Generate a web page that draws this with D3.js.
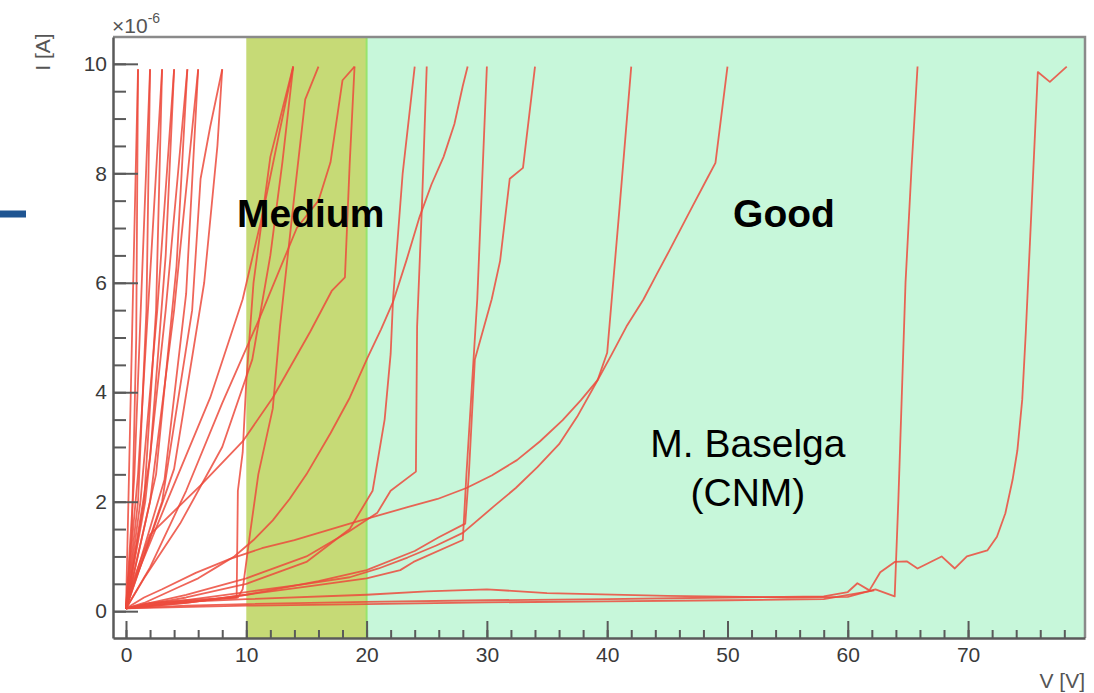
<!DOCTYPE html>
<html>
<head>
<meta charset="utf-8">
<script src="https://cdn.jsdelivr.net/npm/d3@7"></script>
<style>
  body { margin: 0; background: #fff; }
  svg { display: block; font-family: "Liberation Sans", Arial, Helvetica, sans-serif; }
</style>
</head>
<body>
<div id="plot"></div>
<script>
// I-V curves, voltage in V, current in units of 1e-6 A

// breakdown below 10 V
const leftCurves = [
  [[0,0.05],[0.2,2],[0.6,6],[1.0,9.9]],
  [[0,0.05],[0.5,1.5],[0.85,5],[1.0,9.9]],
  [[0,0.05],[0.7,2.5],[1.4,6.5],[2.0,9.9]],
  [[0,0.05],[1.0,2.0],[1.7,5.5],[2.0,9.9]],
  [[0,0.05],[1.0,2.5],[2.1,6.5],[3.0,9.9]],
  [[0,0.05],[1.5,2.0],[2.5,5.5],[3.0,9.9]],
  [[0,0.05],[1.2,2.0],[2.6,5.5],[4.0,9.9]],
  [[0,0.05],[2.0,2.8],[3.3,6.5],[4.0,9.9]],
  [[0,0.05],[1.6,2.0],[3.3,5.5],[5.1,9.9]],
  [[0,0.05],[2.5,2.5],[4.2,6.3],[5.1,9.9]],
  [[0,0.05],[2.0,2.0],[4.0,5.5],[6.0,9.9]],
  [[0,0.05],[3.2,2.4],[5.0,5.8],[6.0,9.9]],
  [[0,0.05],[3.0,2.0],[5.5,5.5],[6.2,7.9],[7.0,8.85],[8.0,9.9]],
  [[0,0.05],[4.0,2.6],[6.5,6.0],[7.6,8.5],[8.0,9.9]]
];

// breakdown between 10 and 20 V
const mediumCurves = [
  [[0,0.05],[0.6,0.5],[3.4,2.0],[7.0,3.9],[9.7,5.7],[11.4,7.3],[12.8,8.8],[13.9,9.95]],
  [[0,0.05],[1.5,0.6],[4.5,1.6],[8.0,3.0],[10.5,4.6],[12.0,6.5],[13.0,8.2],[13.9,9.95]],
  [[0,0.05],[4,0.15],[9.2,0.25],[9.3,2.2],[9.7,2.9],[10.0,4.2],[10.6,6.0],[12.0,8.3],[13.9,9.95]],
  [[0,0.05],[2,0.15],[5,0.2],[9.3,0.25],[9.7,0.4],[10.3,1.4],[11,2.5],[12.2,3.7],[12.8,5.2],[13.1,5.8],[14,7.6],[14.9,9.35],[16,9.95]],
  [[0,0.05],[2,0.8],[5,2.2],[8,3.8],[11,5.3],[14.2,7.0],[16,7.5],[17,8.2],[18,9.7],[19,9.95]],
  [[0,0.05],[0.5,0.5],[2,1.4],[6.2,2.3],[9.7,3.1],[12.2,3.9],[15.3,5.1],[17.1,5.85],[18.2,6.1],[18.6,8.2],[19,9.95]]
];

// breakdown above 20 V
const goodCurves = [
  [[0,0.05],[5,0.25],[10,0.5],[15,0.9],[18.6,1.5],[20.5,2.2],[21.5,3.5],[22,4.7],[22.2,5.7],[23,8.0],[24,9.95]],
  [[0,0.05],[5,0.3],[10,0.6],[15,1.0],[18.5,1.45],[20.9,1.8],[22,2.2],[24.1,2.55],[24.2,5.2],[24.6,7.4],[25,9.95]],
  [[0,0.05],[1.5,0.15],[3,0.3],[4.5,0.45],[6,0.6],[7.5,0.8],[9,1.0],[10.6,1.3],[12.2,1.66],[13.6,2.05],[15,2.5],[17,3.25],[18.6,3.9],[20.1,4.64],[21.2,5.15],[22.2,5.65],[23.3,6.4],[24.4,7.2],[25.4,7.8],[26.4,8.3],[27.3,8.9],[28,9.6],[28.4,9.95]],
  [[0,0.05],[5,0.15],[10,0.3],[15,0.45],[20,0.6],[22.8,0.75],[23.9,0.9],[28,1.3],[28.3,2.5],[29.2,5.7],[30,9.95]],
  [[0,0.05],[5,0.15],[10,0.3],[16,0.55],[20,0.75],[24,1.1],[26,1.35],[28.2,1.6],[28.5,2.5],[29,4.6],[30.4,5.7],[31.1,6.4],[31.9,7.9],[33,8.1],[34,9.95]],
  [[0,0.05],[5,0.2],[10,0.35],[15,0.5],[18.6,0.62],[21,0.78],[23.4,0.98],[25.8,1.2],[28,1.43],[30.5,1.9],[32.4,2.25],[34.2,2.63],[36,3.05],[37.5,3.55],[39.2,4.22],[40,4.72],[41,7.3],[42,9.95]],
  [[0,0.05],[1.5,0.25],[3,0.4],[5.8,0.7],[8.6,0.95],[11.3,1.15],[14,1.3],[16.3,1.45],[18.6,1.6],[21,1.75],[23.4,1.9],[25.9,2.05],[28.3,2.25],[30.4,2.48],[32.5,2.76],[34.4,3.1],[36.3,3.49],[37.8,3.85],[39.2,4.22],[40.4,4.7],[41.6,5.2],[43,5.69],[44.1,6.15],[45.2,6.6],[47.1,7.4],[48.3,7.9],[49,8.19],[50,9.95]],
  [[0,0.05],[3,0.15],[10,0.22],[20,0.3],[25,0.36],[30,0.4],[35,0.33],[45,0.28],[55,0.25],[60,0.26],[62.3,0.4],[63.9,0.27],[64.2,2],[64.8,6],[65.3,8.1],[65.8,9.95]],
  [[0,0.05],[10,0.1],[20,0.13],[30,0.16],[40,0.18],[50,0.2],[58,0.22],[62.2,0.38]],
  [[0,0.05],[5,0.1],[10,0.13],[20,0.17],[30,0.2],[40,0.22],[50,0.25],[58,0.27],[60,0.35],[60.8,0.51],[61.8,0.38],[62.7,0.71],[63.9,0.9],[64.9,0.91],[65.8,0.78],[67.8,1.0],[68.9,0.78],[69.9,1.0],[71.6,1.11],[72.4,1.36],[73.1,1.79],[73.7,2.4],[74.1,2.94],[74.5,3.86],[74.8,5.1],[75.8,9.85],[76.8,9.67],[78.2,9.95]]
];

// shaded regions
const bandStarts = [10, 20];
const bandEnds = [20, 79.72];
const bandNames = ["Medium", "Good"];

const xTicks = [0, 10, 20, 30, 40, 50, 60, 70];
const xMinorTicks = d3.range(0, 80, 2);
const yTicks = [0, 2, 4, 6, 8, 10];
const yMinorTicks = d3.range(0, 10.5, 0.5);

// layout
const width = 1094, height = 693;
const plotLeft = 113, plotRight = 1085, plotTop = 37, plotBottom = 638;
const bandColors = ["#c6da76", "#c7f7da"];
const lineColor = "#ec4a3c";

const svg = d3.select("#plot").append("svg")
  .attr("width", width)
  .attr("height", height);

const x = d3.scaleLinear([-1.08, 79.72], [plotLeft, plotRight]);
const y = d3.scaleLinear([-0.49, 10.49], [plotBottom, plotTop]);

// bands
svg.selectAll("rect.band")
  .data(bandStarts)
  .join("rect")
    .attr("class", "band")
    .attr("x", d => x(d))
    .attr("y", plotTop)
    .attr("width", (d, i) => x(bandEnds[i]) - x(d))
    .attr("height", plotBottom - plotTop)
    .attr("fill", (d, i) => bandColors[i]);

// edge of the good region
svg.append("line")
  .attr("x1", x(20)).attr("x2", x(20))
  .attr("y1", plotTop).attr("y2", plotBottom)
  .attr("stroke", "#97e46c")
  .attr("stroke-width", 2);

// frame top / right
svg.append("path")
  .attr("d", `M${plotLeft},${plotTop}H${plotRight}V${plotBottom}`)
  .attr("fill", "none")
  .attr("stroke", "#8a8a8a")
  .attr("stroke-width", 2.5);

// curves
svg.append("clipPath").attr("id", "clip")
  .append("rect")
    .attr("x", plotLeft).attr("y", plotTop)
    .attr("width", plotRight - plotLeft).attr("height", plotBottom - plotTop);

const line = d3.line()
  .x(d => x(d[0]))
  .y(d => y(d[1]));

svg.append("g")
  .attr("clip-path", "url(#clip)")
  .selectAll("path")
  .data([...leftCurves, ...mediumCurves, ...goodCurves])
  .join("path")
    .attr("d", line)
    .attr("fill", "none")
    .attr("stroke", lineColor)
    .attr("stroke-opacity", 0.85)
    .attr("stroke-width", 1.8)
    .attr("stroke-linejoin", "round");

// axes, ROOT style ticks pointing inward
const axisColor = "#5a5a5a";
const styleAxis = g => {
  g.selectAll(".domain").attr("stroke", axisColor).attr("stroke-width", 2.5);
  g.selectAll(".tick line").attr("stroke", axisColor).attr("stroke-width", 2);
  g.selectAll(".tick text").attr("fill", "#3a3a3a").style("font-size", "21px")
    .style("font-family", "'Liberation Sans', Arial, sans-serif");
};

svg.append("g")
  .attr("transform", `translate(${plotLeft},0)`)
  .call(d3.axisLeft(y).tickValues(yMinorTicks).tickSize(-13).tickFormat("").tickSizeOuter(0))
  .call(styleAxis);

svg.append("g")
  .attr("transform", `translate(${plotLeft},0)`)
  .call(d3.axisLeft(y).tickValues(yTicks).tickSize(-25).tickPadding(6).tickSizeOuter(0))
  .call(styleAxis)
  .call(g => g.select(".domain").remove());

svg.append("g")
  .attr("transform", `translate(0,${plotBottom})`)
  .call(d3.axisBottom(x).tickValues(xMinorTicks).tickSize(-8).tickFormat("").tickSizeOuter(0))
  .call(styleAxis);

svg.append("g")
  .attr("transform", `translate(0,${plotBottom})`)
  .call(d3.axisBottom(x).tickValues(xTicks).tickSize(-17).tickPadding(9).tickSizeOuter(0))
  .call(styleAxis)
  .call(g => g.select(".domain").remove());

// axis titles
const exp = svg.append("text")
  .attr("x", plotLeft - 1)
  .attr("y", 33)
  .attr("fill", "#555")
  .style("font-size", "21px")
  .text("×10");
exp.append("tspan")
  .attr("dy", -10)
  .style("font-size", "14px")
  .text("-6");

svg.append("text")
  .attr("transform", "translate(50,52) rotate(-90)")
  .attr("text-anchor", "middle")
  .attr("fill", "#555")
  .style("font-size", "21px")
  .text("I [A]");

svg.append("text")
  .attr("x", plotRight)
  .attr("y", 688)
  .attr("text-anchor", "end")
  .attr("fill", "#555")
  .style("font-size", "21px")
  .text("V [V]");

// region labels
svg.append("text")
  .attr("x", x(9.23)).attr("y", y(7.02))
  .style("font-size", "39px").style("font-weight", "bold")
  .text(bandNames[0]);

svg.append("text")
  .attr("x", x(54.7)).attr("y", y(7.02))
  .attr("text-anchor", "middle")
  .style("font-size", "39px").style("font-weight", "bold")
  .text(bandNames[1]);

svg.append("text")
  .attr("x", x(51.7)).attr("y", y(2.82))
  .attr("text-anchor", "middle")
  .style("font-size", "39px")
  .text("M. Baselga");

svg.append("text")
  .attr("x", x(51.7)).attr("y", y(1.92))
  .attr("text-anchor", "middle")
  .style("font-size", "39px")
  .text("(CNM)");

// slide decoration at left edge
svg.append("rect")
  .attr("x", 0).attr("y", 210.5)
  .attr("width", 26).attr("height", 7)
  .attr("fill", "#1f5592");
</script>
</body>
</html>
